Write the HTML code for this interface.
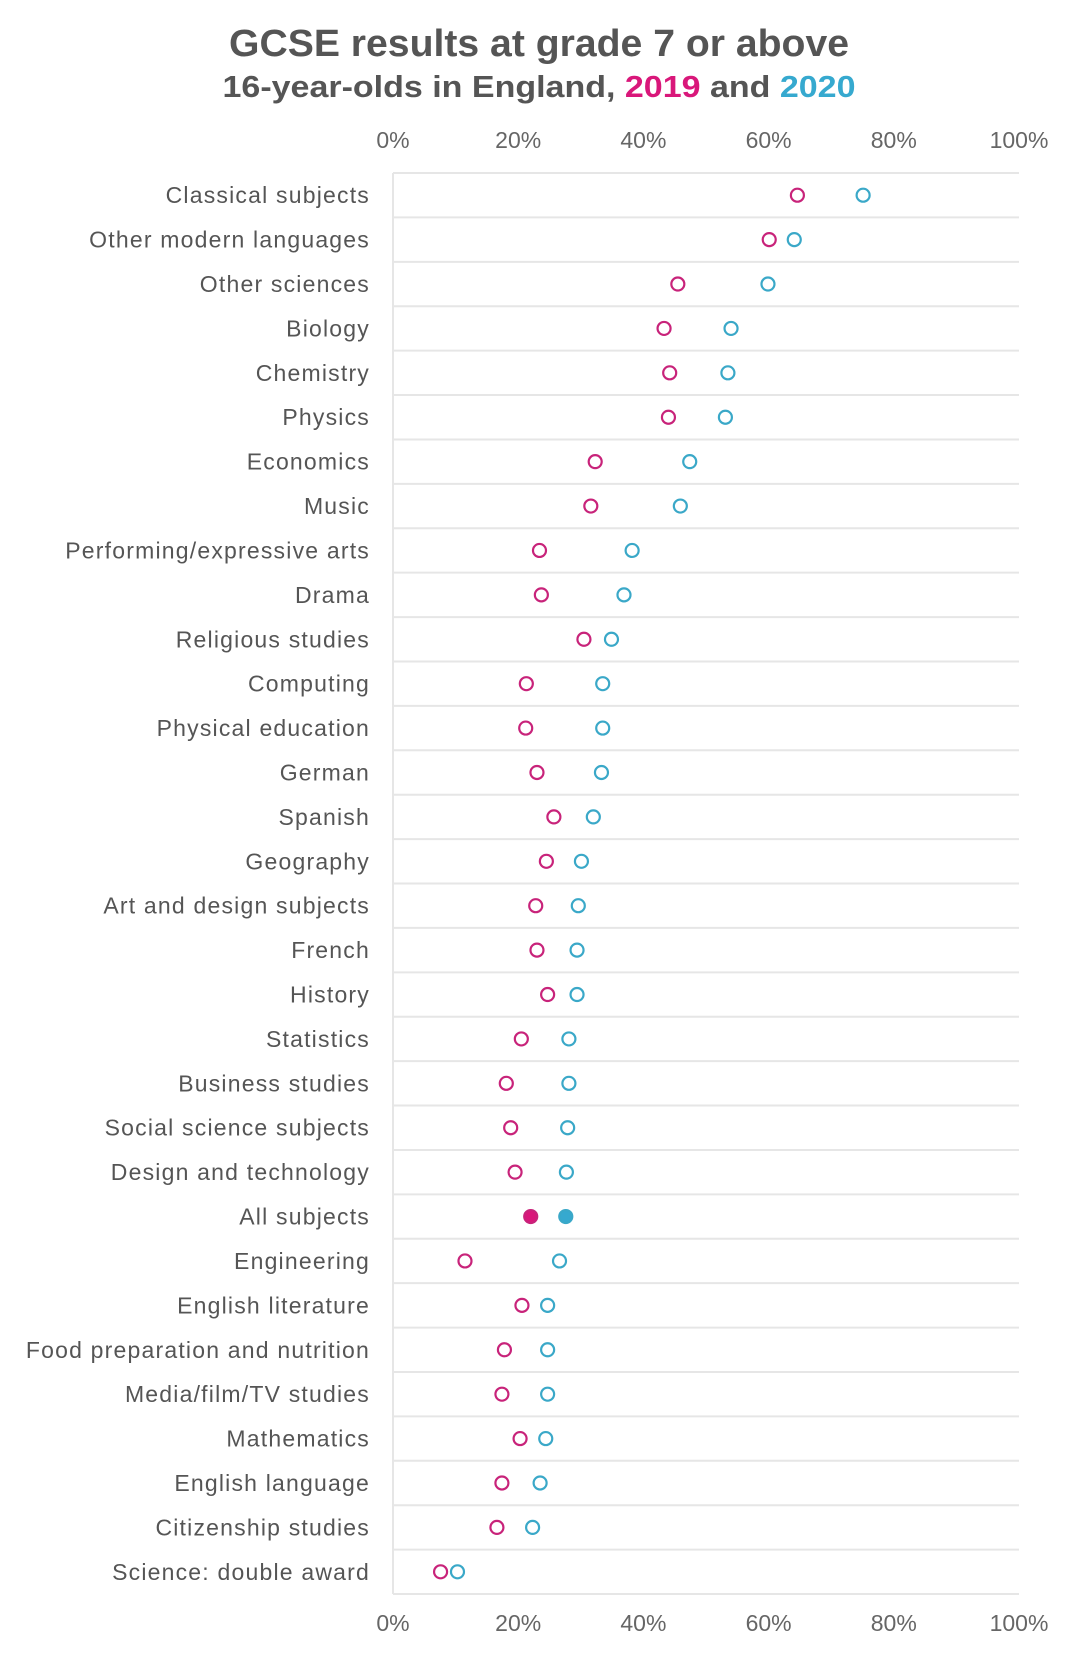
<!DOCTYPE html>
<html><head><meta charset="utf-8"><style>
html,body{margin:0;padding:0;background:#fff;}
svg{display:block;font-family:"Liberation Sans",sans-serif;}
</style></head><body>
<svg id="chart" width="1080" height="1657">
<text x="539" y="56" text-anchor="middle" font-size="38" font-weight="bold" fill="#555" textLength="620" lengthAdjust="spacingAndGlyphs">GCSE results at grade 7 or above</text>
<text x="539" y="97" text-anchor="middle" font-size="31" font-weight="bold" fill="#555" textLength="633" lengthAdjust="spacingAndGlyphs">16-year-olds in England, <tspan fill="#d9177a">2019</tspan> and <tspan fill="#36a9cf">2020</tspan></text>
<g id="plot"></g>
</svg>
<script>
const categories=["Classical subjects","Other modern languages","Other sciences","Biology","Chemistry","Physics","Economics","Music","Performing/expressive arts","Drama","Religious studies","Computing","Physical education","German","Spanish","Geography","Art and design subjects","French","History","Statistics","Business studies","Social science subjects","Design and technology","All subjects","Engineering","English literature","Food preparation and nutrition","Media/film/TV studies","Mathematics","English language","Citizenship studies","Science: double award"];
const values2019=[64.6,60.1,45.5,43.3,44.2,44,32.3,31.6,23.4,23.7,30.5,21.3,21.2,23,25.7,24.5,22.8,23,24.7,20.5,18.1,18.8,19.5,22,11.5,20.6,17.8,17.4,20.3,17.4,16.6,7.6];
const values2020=[75.1,64.1,59.9,54,53.5,53.1,47.4,45.9,38.2,36.9,34.9,33.5,33.5,33.3,32,30.1,29.6,29.4,29.4,28.1,28.1,27.9,27.7,27.6,26.6,24.7,24.7,24.7,24.4,23.5,22.3,10.3];
const tickValues=[0,20,40,60,80,100];
const tickLabels=["0%","20%","40%","60%","80%","100%"];

const X0=393,X1=1019,TOP=173,BOT=1594;
const rowH=(BOT-TOP)/categories.length;
const xs=v=>X0+(v/100)*(X1-X0);
const ys=i=>TOP+rowH*(i+0.5);
const NS="http://www.w3.org/2000/svg";
const g=document.getElementById('plot');
function mk(tag,attrs,parent){const e=document.createElementNS(NS,tag);for(const k in attrs)e.setAttribute(k,attrs[k]);(parent||g).appendChild(e);return e;}

for(let i=0;i<=categories.length;i++){
  const l=mk('line',{x1:X0,x2:X1,y1:TOP+rowH*i,y2:TOP+rowH*i,stroke:'#e6e6e6','stroke-width':2});
  
  
}
const ax=mk('line',{x1:X0,x2:X0,y1:TOP,y2:BOT,stroke:'#e6e6e6','stroke-width':2});



tickValues.forEach((v,i)=>{
  [148,1631].forEach((y,j)=>{
    const t=mk('text',{x:xs(v),y:y,'text-anchor':'middle','font-size':23,fill:'#666'});
    t.textContent=tickLabels[i];
    
    
  });
});

categories.forEach((c,i)=>{
  const t=mk('text',{x:370,y:ys(i)+8,'text-anchor':'end','font-size':23,fill:'#555','letter-spacing':1.2});
  t.textContent=c;
  
  
  const filled=c==="All subjects";
  const a=mk('circle',{cx:xs(values2019[i]),cy:ys(i),r:6.5,fill:filled?'#d9177a':'none',stroke:'#c8237a','stroke-width':2.2});
  
  
  const b=mk('circle',{cx:xs(values2020[i]),cy:ys(i),r:6.5,fill:filled?'#36a9cf':'none',stroke:'#3aa8c8','stroke-width':2.2});
  
  
});
</script>
</body></html>
